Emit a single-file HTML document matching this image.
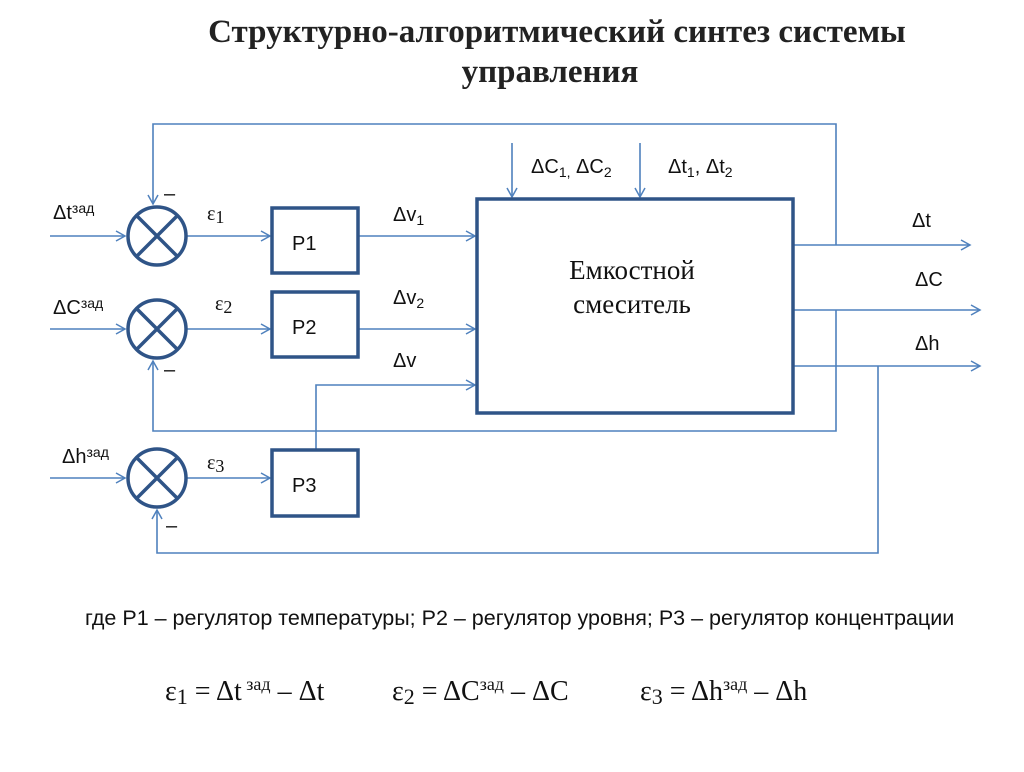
<!DOCTYPE html>
<html><head><meta charset="utf-8"><style>
body{margin:0;background:#fff}
svg text{font-family:"Liberation Sans",sans-serif}
svg text.s{font-family:"Liberation Serif",serif}
</style></head><body>
<svg width="1024" height="767" xmlns="http://www.w3.org/2000/svg">
<defs><marker id="a" markerWidth="12" markerHeight="12" refX="10" refY="6" orient="auto" markerUnits="userSpaceOnUse"><path d="M1,1 L10,6 L1,11" fill="none" stroke="#4f81bd" stroke-width="1.5"/></marker></defs>
<text class="s" x="557" y="42" text-anchor="middle" font-weight="bold" font-size="33" fill="#222">Структурно-алгоритмический синтез системы</text>
<text class="s" x="550" y="82" text-anchor="middle" font-weight="bold" font-size="33" fill="#222">управления</text>
<g stroke="#4f81bd" stroke-width="1.6" fill="none">
<path d="M50,236 H125" marker-end="url(#a)"/>
<path d="M50,329 H125" marker-end="url(#a)"/>
<path d="M50,478 H125" marker-end="url(#a)"/>
<path d="M187,236 H270" marker-end="url(#a)"/>
<path d="M187,329 H270" marker-end="url(#a)"/>
<path d="M187,478 H270" marker-end="url(#a)"/>
<path d="M358,236 H475" marker-end="url(#a)"/>
<path d="M358,329 H475" marker-end="url(#a)"/>
<path d="M316,450 V385 H475" marker-end="url(#a)"/>
<path d="M512,143 V197" marker-end="url(#a)"/>
<path d="M640,143 V197" marker-end="url(#a)"/>
<path d="M793,245 H970" marker-end="url(#a)"/>
<path d="M793,310 H980" marker-end="url(#a)"/>
<path d="M793,366 H980" marker-end="url(#a)"/>
<path d="M836,245 V124 H153 V204" marker-end="url(#a)"/>
<path d="M836,310 V431 H153 V361" marker-end="url(#a)"/>
<path d="M878,366 V553 H157 V510" marker-end="url(#a)"/>
</g>
<g stroke="#2f5487" stroke-width="3.5" fill="#fff">
<rect x="272" y="208" width="86" height="65"/>
<rect x="272" y="292" width="86" height="65"/>
<rect x="272" y="450" width="86" height="66"/>
<rect x="477" y="199" width="316" height="214"/>
</g>
<g stroke="#2f5487" stroke-width="3.5" fill="none">
<circle cx="157" cy="236" r="29"/><path d="M137,216 L177,256 M177,216 L137,256"/>
<circle cx="157" cy="329" r="29"/><path d="M137,309 L177,349 M177,309 L137,349"/>
<circle cx="157" cy="478" r="29"/><path d="M137,458 L177,498 M177,458 L137,498"/>
</g>
<g font-size="20" fill="#111">
<text x="292" y="250">P1</text><text x="292" y="334">P2</text><text x="292" y="492">P3</text>
<text x="53" y="219">Δt<tspan font-size="14" dy="-6">зад</tspan></text>
<text x="53" y="314">ΔC<tspan font-size="14" dy="-6">зад</tspan></text>
<text x="62" y="463">Δh<tspan font-size="14" dy="-6">зад</tspan></text>
<text class="s" x="207" y="220">ε<tspan font-size="18" dy="3">1</tspan></text>
<text class="s" x="215" y="310">ε<tspan font-size="18" dy="3">2</tspan></text>
<text class="s" x="207" y="469">ε<tspan font-size="18" dy="3">3</tspan></text>
<text x="164" y="200">–</text><text x="164" y="376">–</text><text x="166" y="532">–</text>
<text x="393" y="221">Δv<tspan font-size="14" dy="4">1</tspan></text>
<text x="393" y="304">Δv<tspan font-size="14" dy="4">2</tspan></text>
<text x="393" y="367">Δv</text>
<text x="531" y="173">ΔC<tspan font-size="14" dy="4">1,</tspan><tspan dy="-4"> ΔC</tspan><tspan font-size="14" dy="4">2</tspan></text>
<text x="668" y="173">Δt<tspan font-size="14" dy="4">1</tspan><tspan dy="-4">, Δt</tspan><tspan font-size="14" dy="4">2</tspan></text>
<text x="912" y="227">Δt</text><text x="915" y="286">ΔC</text><text x="915" y="350">Δh</text>
<text class="s" x="632" y="279" text-anchor="middle" font-size="27">Емкостной</text>
<text class="s" x="632" y="313" text-anchor="middle" font-size="27">смеситель</text>
<text x="85" y="625" font-size="21.5">где Р1 – регулятор температуры; Р2 – регулятор уровня; Р3 – регулятор концентрации</text>
<text class="s" x="165" y="700" font-size="28">ε<tspan font-size="22" dy="4">1</tspan><tspan dy="-4"> = Δt</tspan><tspan font-size="18" dy="-10"> зад</tspan><tspan dy="10"> – Δt</tspan></text>
<text class="s" x="392" y="700" font-size="28">ε<tspan font-size="22" dy="4">2</tspan><tspan dy="-4"> = ΔC</tspan><tspan font-size="18" dy="-10">зад</tspan><tspan dy="10"> – ΔC</tspan></text>
<text class="s" x="640" y="700" font-size="28">ε<tspan font-size="22" dy="4">3</tspan><tspan dy="-4"> = Δh</tspan><tspan font-size="18" dy="-10">зад</tspan><tspan dy="10"> – Δh</tspan></text>
</g>
</svg></body></html>
